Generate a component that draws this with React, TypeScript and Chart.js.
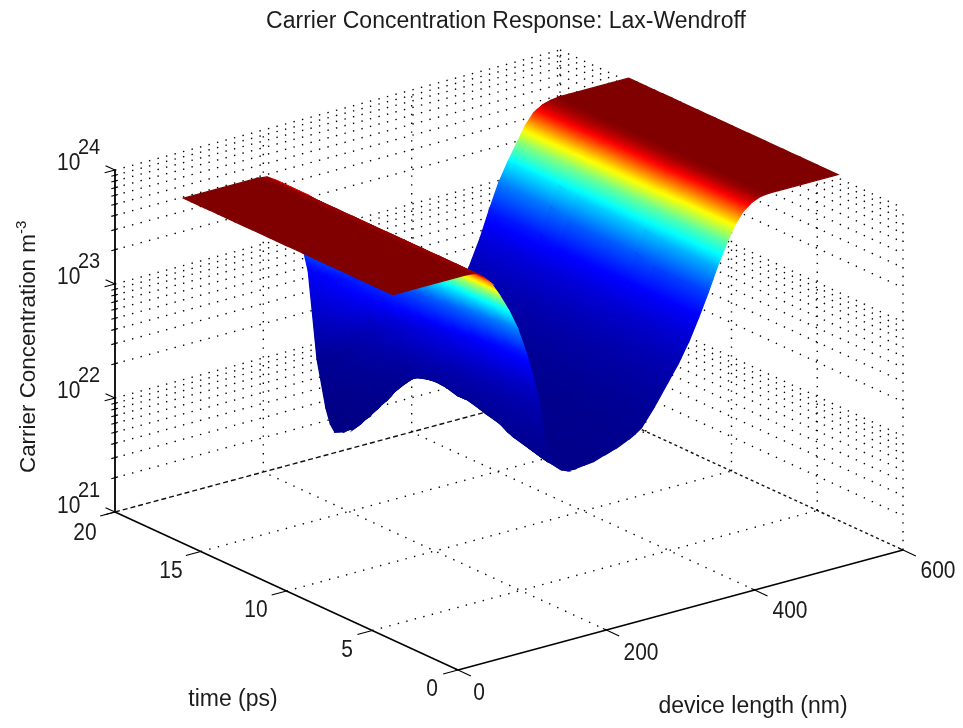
import React, { useEffect, useRef } from "react";
import { Chart, registerables } from "chart.js";
Chart.register(...registerables);

// ---- data ----
const titleText = "Carrier Concentration Response: Lax-Wendroff";
const xLabelText = "device length (nm)";
const tLabelText = "time (ps)";
const zLabelText = "Carrier Concentration m";
const lengthTicks = [0, 200, 400, 600];
const timeTicks = [0, 5, 10, 15, 20];
const decadeTicks = [21, 22, 23, 24];
const minorMultipliers = [2, 3, 4, 5, 6, 7, 8, 9];

// device length knots (nm) of the three parts of each profile
const shoulderKnots = [0, 100, 112, 122, 132];
const valleyKnots = [144, 156, 168, 180, 192, 198, 204, 210, 216, 222, 228, 236, 245, 257, 270, 285, 300, 318, 335];
const riseKnots = [352, 370, 385, 400, 412, 425, 437, 450, 461, 472, 484, 495, 507, 520, 600];
// time rows (ps)
const timeRows = [3.8, 5, 6, 7, 8, 9, 10, 11, 12, 13, 13.5, 14, 14.5, 15, 15.5, 16];

// log10 concentration: left shoulder
const shoulderEarly = [24.03, 24.03, 24.02, 23.97, 23.9];
const shoulderLate = [24.03, 24.03, 24.02, 23.98, 23.9];
// log10 concentration: valley, one list per time row
const valley03_8 = [23.77, 23.62, 23.44, 23.2, 22.9, 22.72, 22.42, 22.29, 22.2, 22.13, 22.09, 22.07, 22.07, 22.08, 22.09, 22.12, 22.15, 22.2, 22.27];
const valley05_0 = [23.77, 23.61, 23.42, 23.17, 22.85, 22.62, 22.3, 22.25, 22.2, 22.16, 22.12, 22.07, 22.03, 22.05, 22.08, 22.11, 22.14, 22.2, 22.26];
const valley06_0 = [23.76, 23.6, 23.41, 23.15, 22.82, 22.6, 22.35, 22.3, 22.26, 22.21, 22.17, 22.11, 22.06, 22.06, 22.07, 22.1, 22.13, 22.18, 22.24];
const valley07_0 = [23.76, 23.59, 23.39, 23.12, 22.78, 22.6, 22.42, 22.38, 22.33, 22.27, 22.21, 22.15, 22.1, 22.08, 22.07, 22.09, 22.12, 22.17, 22.22];
const valley08_0 = [23.75, 23.58, 23.37, 23.08, 22.73, 22.58, 22.45, 22.43, 22.4, 22.35, 22.3, 22.23, 22.16, 22.1, 22.06, 22.08, 22.1, 22.15, 22.2];
const valley09_0 = [23.75, 23.57, 23.35, 23.04, 22.68, 22.56, 22.45, 22.42, 22.38, 22.36, 22.33, 22.26, 22.2, 22.13, 22.08, 22.08, 22.08, 22.12, 22.16];
const valley10_0 = [23.74, 23.56, 23.33, 23.0, 22.63, 22.56, 22.49, 22.46, 22.43, 22.38, 22.34, 22.3, 22.26, 22.18, 22.11, 22.08, 22.06, 22.09, 22.12];
const valley11_0 = [23.74, 23.55, 23.31, 22.96, 22.6, 22.53, 22.46, 22.45, 22.44, 22.41, 22.37, 22.32, 22.27, 22.2, 22.14, 22.07, 22.0, 22.04, 22.08];
const valley12_0 = [23.74, 23.54, 23.28, 22.88, 22.55, 22.45, 22.36, 22.36, 22.36, 22.35, 22.34, 22.32, 22.29, 22.22, 22.15, 22.07, 22.0, 21.97, 21.95];
const valley13_0 = [23.73, 23.52, 23.24, 22.78, 22.4, 22.26, 22.12, 22.15, 22.18, 22.22, 22.25, 22.25, 22.25, 22.22, 22.18, 22.08, 21.98, 21.9, 21.82];
const valley13_5 = [23.72, 23.48, 23.2, 22.65, 22.2, 22.08, 22.0, 22.03, 22.05, 22.08, 22.12, 22.16, 22.2, 22.19, 22.17, 22.1, 22.02, 21.92, 21.84];
const valley14_0 = [23.73, 23.5, 23.18, 22.6, 22.2, 22.03, 21.9, 21.96, 21.97, 21.98, 22.01, 22.06, 22.12, 22.13, 22.13, 22.08, 22.03, 21.92, 21.82];
const valley14_5 = [23.72, 23.47, 23.14, 22.48, 22.0, 21.87, 21.8, 21.85, 21.84, 21.9, 21.92, 21.97, 22.03, 22.07, 22.1, 22.07, 22.03, 21.95, 21.85];
const valley15_0 = [23.72, 23.48, 23.13, 22.42, 22.0, 21.83, 21.72, 21.78, 21.76, 21.82, 21.83, 21.86, 21.89, 21.96, 22.02, 22.02, 22.01, 21.93, 21.84];
const valley15_5 = [23.71, 23.45, 23.1, 22.33, 21.85, 21.73, 21.66, 21.7, 21.68, 21.73, 21.69, 21.74, 21.79, 21.83, 21.88, 21.93, 21.97, 21.92, 21.86];
const valley16_0 = [23.72, 23.45, 23.1, 22.3, 21.85, 21.7, 21.62, 21.67, 21.6, 21.65, 21.6, 21.66, 21.68, 21.73, 21.78, 21.86, 21.94, 21.91, 21.87];
// log10 concentration: right wall and plateau
const riseEarly = [22.42, 22.6, 22.75, 22.93, 23.1, 23.3, 23.5, 23.69, 23.83, 23.93, 23.99, 24.02, 24.03, 24.03, 24.03];
const riseMiddle = [22.3, 22.58, 22.76, 22.96, 23.15, 23.36, 23.54, 23.71, 23.85, 23.94, 23.995, 24.02, 24.03, 24.03, 24.03];
const riseLate = [22.1, 22.55, 22.75, 22.98, 23.2, 23.42, 23.58, 23.73, 23.86, 23.95, 24.0, 24.02, 24.03, 24.03, 24.03];

const valleyRows = [valley03_8, valley05_0, valley06_0, valley07_0, valley08_0, valley09_0, valley10_0, valley11_0, valley12_0, valley13_0, valley13_5, valley14_0, valley14_5, valley15_0, valley15_5, valley16_0];
const shoulderRows = [shoulderEarly, shoulderEarly, shoulderEarly, shoulderEarly, shoulderEarly, shoulderEarly, shoulderEarly, shoulderEarly, shoulderEarly, shoulderEarly, shoulderEarly, shoulderLate, shoulderLate, shoulderLate, shoulderLate, shoulderLate];
const riseRows = [riseEarly, riseEarly, riseEarly, riseEarly, riseMiddle, riseMiddle, riseMiddle, riseMiddle, riseMiddle, riseLate, riseLate, riseLate, riseLate, riseLate, riseLate, riseLate];
const lengthKnots = [...shoulderKnots, ...valleyKnots, ...riseKnots];
const surfaceRows = timeRows.map((_, r) => [...shoulderRows[r], ...valleyRows[r], ...riseRows[r]]);
const colourTopLog = 24.03;

// ---- view of the 3-D box on the page ----
const W = 963, H = 728;
const xMax = 600, tMax = 20, zMin = 21, zMax = 24;
const origin = { x: 458, y: 670 };
const perNm = { x: 445 / 600, y: -120 / 600 };
const perPs = { x: -343 / 20, y: -158 / 20 };
const perDecade = -114;

type P = { x: number; y: number };
const project = (len: number, t: number, z: number): P => ({
  x: origin.x + len * perNm.x + t * perPs.x,
  y: origin.y + len * perNm.y + t * perPs.y + (z - zMin) * perDecade,
});

const clamp01 = (v: number) => Math.max(0, Math.min(1, v));
const jet = (f: number) => {
  const r = clamp01(Math.min(4 * f - 1.5, -4 * f + 4.5));
  const g = clamp01(Math.min(4 * f - 0.5, -4 * f + 3.5));
  const b = clamp01(Math.min(4 * f + 0.5, -4 * f + 2.5));
  return `rgb(${Math.round(r * 255)},${Math.round(g * 255)},${Math.round(b * 255)})`;
};
const frac = (z: number) => clamp01(Math.pow(10, z - colourTopLog));

function surfaceDatasets(c2d: CanvasRenderingContext2D) {
  // first dataset is painted last: nearest quad (small t, small length) first
  const out: any[] = [];
  const dl = Math.hypot(perPs.x, perPs.y);
  const nx = -perPs.y / dl, ny = perPs.x / dl;
  for (let r = 0; r < timeRows.length - 1; r++) {
    for (let i = 0; i < lengthKnots.length - 1; i++) {
      const a = project(lengthKnots[i], timeRows[r], surfaceRows[r][i]);
      const b = project(lengthKnots[i + 1], timeRows[r], surfaceRows[r][i + 1]);
      const c = project(lengthKnots[i + 1], timeRows[r + 1], surfaceRows[r + 1][i + 1]);
      const d = project(lengthKnots[i], timeRows[r + 1], surfaceRows[r + 1][i]);
      const f0 = (frac(surfaceRows[r][i]) + frac(surfaceRows[r + 1][i])) / 2;
      const f1 = (frac(surfaceRows[r][i + 1]) + frac(surfaceRows[r + 1][i + 1])) / 2;
      const p0 = { x: (a.x + d.x) / 2, y: (a.y + d.y) / 2 };
      const p1 = { x: (b.x + c.x) / 2, y: (b.y + c.y) / 2 };
      const s = (p1.x - p0.x) * nx + (p1.y - p0.y) * ny;
      let paint: any;
      if (Math.abs(s) < 0.05 || Math.abs(f1 - f0) < 0.002) {
        paint = jet((f0 + f1) / 2);
      } else {
        paint = c2d.createLinearGradient(p0.x, p0.y, p0.x + s * nx, p0.y + s * ny);
        for (let k = 0; k <= 8; k++) paint.addColorStop(k / 8, jet(f0 + ((f1 - f0) * k) / 8));
      }
      out.push({
        data: [a, b, c, d, a],
        showLine: true,
        fill: "shape",
        backgroundColor: paint,
        borderColor: paint,
        borderWidth: 1.3,
        pointRadius: 0,
        tension: 0.0001,
      });
    }
  }
  return out;
}

const seg = (a: P, b: P, width: number, color = "#000", dash: number[] = []) => ({
  data: [a, b],
  showLine: true,
  fill: false,
  borderColor: color,
  borderWidth: width,
  borderDash: dash,
  pointRadius: 0,
});

function boxDatasets() {
  const out: any[] = [];
  const dots = [1.4, 7.4];
  const dotW = 1.4;
  const levels: number[] = [];
  decadeTicks.forEach((d) => {
    if (d < zMax) minorMultipliers.forEach((m) => levels.push(d + Math.log10(m)));
    if (d > zMin) levels.push(d);
  });
  levels.forEach((z) => {
    out.push(seg(project(0, tMax, z), project(xMax, tMax, z), dotW, "#000", dots));
    out.push(seg(project(xMax, tMax, z), project(xMax, 0, z), dotW, "#000", dots));
  });
  [200, 400, 600].forEach((l) => out.push(seg(project(l, tMax, zMin), project(l, tMax, zMax), dotW, "#000", dots)));
  [0, 5, 10, 15].forEach((t) => out.push(seg(project(xMax, t, zMin), project(xMax, t, zMax), dotW, "#000", dots)));
  [200, 400].forEach((l) => out.push(seg(project(l, 0, zMin), project(l, tMax, zMin), dotW, "#000", dots)));
  [5, 10, 15].forEach((t) => out.push(seg(project(0, t, zMin), project(xMax, t, zMin), dotW, "#000", dots)));
  out.push(seg(project(0, tMax, zMin), project(xMax, tMax, zMin), 1.4, "#111", [5, 3]));
  out.push(seg(project(xMax, tMax, zMin), project(xMax, 0, zMin), 1.4, "#111", [3, 3]));
  out.push(seg(project(0, 0, zMin), project(xMax, 0, zMin), 1.5));
  out.push(seg(project(0, 0, zMin), project(0, tMax, zMin), 1.5));
  out.push(seg(project(0, tMax, zMin), project(0, tMax, zMax), 1.8));
  lengthTicks.forEach((l) => out.push(seg(project(l, 0, zMin), project(l, -0.75, zMin), 1.1)));
  lengthTicks.forEach((l) => out.push(seg(project(l, 0.2, zMin), project(l, 0, zMin), 1.1)));
  timeTicks.forEach((t) => out.push(seg(project(0, t, zMin), project(-20, t, zMin), 1.1)));
  decadeTicks.forEach((d) => {
    out.push(seg(project(0, tMax, d), project(-14, tMax, d), 1.1));
    out.push(seg(project(0, tMax, d), project(0, tMax + 0.55, d), 1.1));
    if (d < zMax)
      minorMultipliers.forEach((m) => out.push(seg(project(-5, tMax, d + Math.log10(m)), project(4, tMax, d + Math.log10(m)), 1.1)));
  });
  return out;
}

const FACE = '"Liberation Sans", Arial, sans-serif';
const INK = "#1c1c1c";

const textPlugin = {
  id: "labels3d",
  afterDraw(chart: any) {
    const c = chart.ctx as CanvasRenderingContext2D;
    c.save();
    c.fillStyle = INK;
    const put = (s: string, x: number, y: number, size: number, align: CanvasTextAlign = "center", sy = 1) => {
      c.save();
      c.translate(x, y);
      c.scale(1, sy);
      c.font = `${size}px ${FACE}`;
      c.textAlign = align;
      c.textBaseline = "alphabetic";
      c.fillText(s, 0, 0);
      c.restore();
    };
    put(titleText, 506, 28, 23);
    const timePos = [[432, 696], [347, 657], [256, 617], [171, 578], [85, 540]];
    timeTicks.forEach((t, i) => put(String(t), timePos[i][0], timePos[i][1], 21, "center", 1.12));
    const lenPos = [[479, 700], [641, 660], [790, 618], [938, 578]];
    lengthTicks.forEach((l, i) => put(String(l), lenPos[i][0], lenPos[i][1], 21, "center", 1.12));
    const decBase = [513, 398, 284, 170];
    decadeTicks.forEach((d, i) => {
      put("10", 57, decBase[i], 21, "left", 1.12);
      put(String(d), 78, decBase[i] - 16, 20, "left", 1.12);
    });
    put(tLabelText, 233, 706, 23);
    put(xLabelText, 753, 713, 23);
    c.save();
    c.translate(35, 473);
    c.rotate(-Math.PI / 2);
    c.font = `22.4px ${FACE}`;
    c.textAlign = "left";
    c.fillText(zLabelText, 0, 0);
    const w = c.measureText(zLabelText).width;
    c.font = `15px ${FACE}`;
    c.fillText("-3", w, -9);
    c.restore();
    c.restore();
  },
};

export default function App() {
  const ref = useRef<HTMLCanvasElement | null>(null);
  useEffect(() => {
    const canvas = ref.current!;
    const c2d = canvas.getContext("2d")!;
    const chart = new Chart(canvas, {
      type: "scatter",
      data: { datasets: [...surfaceDatasets(c2d), ...boxDatasets()] },
      options: {
        responsive: false,
        animation: false,
        devicePixelRatio: 1,
        layout: { padding: 0 },
        clip: false,
        plugins: { legend: { display: false }, tooltip: { enabled: false }, title: { display: false } },
        scales: {
          x: { type: "linear", display: false, min: 0, max: W },
          y: { type: "linear", display: false, min: 0, max: H, reverse: true },
        },
      },
      plugins: [textPlugin],
    } as any);
    return () => chart.destroy();
  }, []);
  return (
    <div style={{ position: "absolute", left: 0, top: 0, width: W, height: H, background: "#fff" }}>
      <canvas ref={ref} width={W} height={H} style={{ display: "block", filter: "blur(0.35px)" }} />
    </div>
  );
}
